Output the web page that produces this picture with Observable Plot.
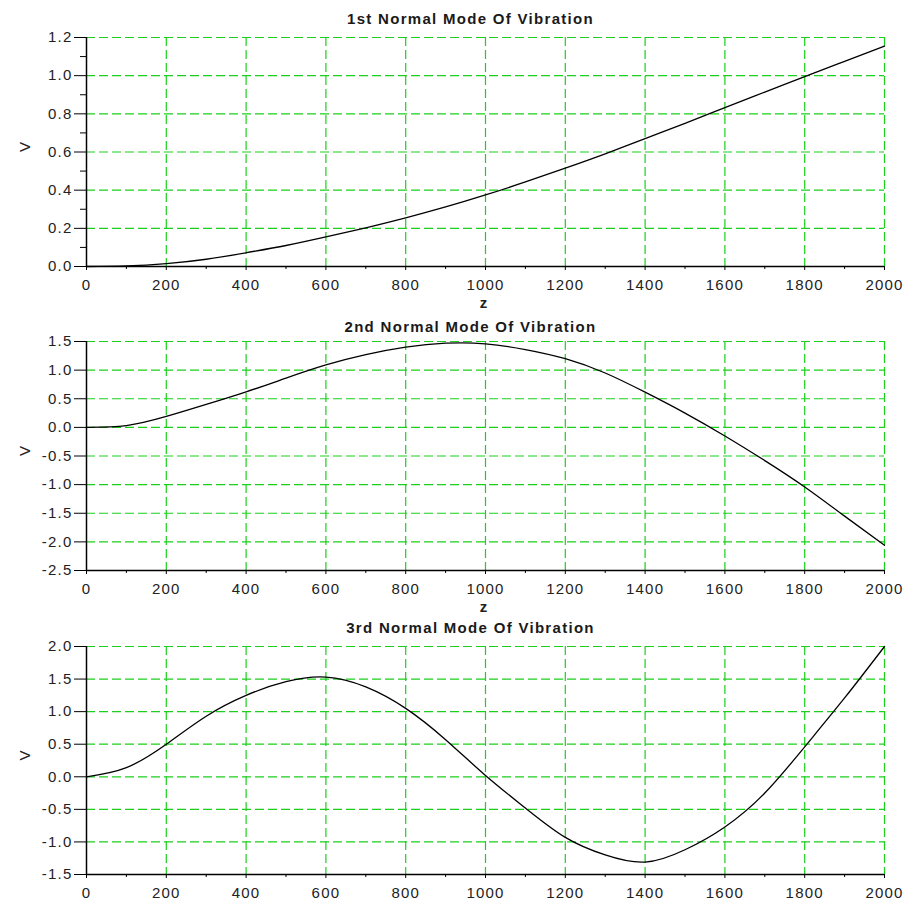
<!DOCTYPE html>
<html><head><meta charset="utf-8">
<script src="https://cdn.jsdelivr.net/npm/d3@7"></script>
<script src="https://cdn.jsdelivr.net/npm/@observablehq/plot@0.6"></script>
<style>
body{margin:0;background:#fff;}
#chart svg{display:block;}
#chart g[aria-label$="tick label"] text{letter-spacing:1.2px;}
</style></head><body><div id="chart"></div>
<script>
// Data
const z = [0,100,200,300,400,500,600,700,800,900,1000,1100,1200,1300,1400,1500,1600,1700,1800,1900,2000];
const mode1 = [0,0.003,0.015,0.038,0.072,0.11,0.155,0.203,0.255,0.312,0.375,0.443,0.515,0.59,0.67,0.75,0.833,0.914,0.995,1.075,1.155];
const mode2 = [0,0.03,0.19,0.40,0.62,0.86,1.09,1.27,1.40,1.47,1.46,1.36,1.20,0.95,0.615,0.25,-0.15,-0.58,-1.04,-1.55,-2.06];
const mode3 = [0,0.14,0.5,0.93,1.25,1.46,1.53,1.38,1.05,0.57,0.02,-0.48,-0.93,-1.2,-1.31,-1.12,-0.77,-0.25,0.46,1.21,2.0];
const titles = ["1st Normal Mode Of Vibration","2nd Normal Mode Of Vibration","3rd Normal Mode Of Vibration"];
const xTicks = [0,200,400,600,800,1000,1200,1400,1600,1800,2000];
const xMinor = [100,300,500,700,900,1100,1300,1500,1700,1900];
const yTicks1 = [0,0.2,0.4,0.6,0.8,1.0,1.2];
const yMinor1 = [0.1,0.3,0.5,0.7,0.9,1.1];
const yTicks2 = [-2.5,-2.0,-1.5,-1.0,-0.5,0,0.5,1.0,1.5];
const yTicks3 = [-1.5,-1.0,-0.5,0,0.5,1.0,1.5,2.0];
const xLabel = "z";
const yLabel = "V";

const GREEN = "#1ccf1c";
const FONT = "'Liberation Sans', Arial, sans-serif";

function panel({title, values, yTicks, yMinor, height, marginTop, marginBottom, titleDy, showZ}) {
  const data = z.map((d, i) => ({z: d, v: values[i]}));
  const yDomain = [yTicks[0], yTicks[yTicks.length - 1]];
  const marks = [
    Plot.gridX(xTicks.filter(d => d > 0), {stroke: GREEN, strokeOpacity: 1, strokeWidth: 1.2, strokeDasharray: "9,4"}),
    Plot.gridY(yTicks.filter(d => d > yDomain[0]), {stroke: GREEN, strokeOpacity: 1, strokeWidth: 1.2, strokeDasharray: "9,4"}),
    Plot.axisX(xMinor, {tickSize: 3, text: null, stroke: "#000", label: null}),
    Plot.axisX(xTicks, {tickSize: 4, tickPadding: 9, tickFormat: d => String(d), stroke: "#000", fill: "#222", label: null}),
    Plot.axisY(yTicks, {tickSize: 12, tickPadding: 2, tickFormat: d => d.toFixed(1), stroke: "#000", fill: "#222", label: null}),
    Plot.ruleX([0], {stroke: "#000", strokeWidth: 1.5}),
    Plot.ruleY([yDomain[0]], {stroke: "#000", strokeWidth: 1.5}),
    Plot.line(data, {x: "z", y: "v", curve: "natural", stroke: "#000", strokeWidth: 1.3}),
    Plot.text([title], {frameAnchor: "top", lineAnchor: "middle", dy: titleDy, dx: -15, fontSize: 15, fontWeight: "bold", fill: "#1a1a1a"}),
    Plot.text([yLabel], {frameAnchor: "left", lineAnchor: "middle", dx: -61, rotate: -90, fontSize: 15, fill: "#222"})
  ];
  if (yMinor) marks.push(Plot.axisY(yMinor, {tickSize: 6, text: null, stroke: "#000", label: null}));
  if (showZ) marks.push(Plot.text([xLabel], {frameAnchor: "bottom", lineAnchor: "middle", dy: 37, dx: -2, fontSize: 15, fontWeight: "bold", fill: "#222"}));
  const svg = Plot.plot({
    width: 906,
    height,
    marginTop,
    marginBottom,
    marginLeft: 86,
    marginRight: 22,
    style: {fontFamily: FONT, fontSize: "15px", background: "#fff", color: "#222"},
    x: {domain: [0, 2000], axis: null},
    y: {domain: yDomain, axis: null},
    marks
  });
  d3.select(svg).selectAll("text").filter(function () { return this.textContent === title; })
    .style("letter-spacing", "1.3px");
  return svg;
}

const el = document.getElementById("chart");
el.append(panel({title: titles[0], values: mode1, yTicks: yTicks1, yMinor: yMinor1, height: 312, marginTop: 37, marginBottom: 46, titleDy: -18, showZ: true}));
el.append(panel({title: titles[1], values: mode2, yTicks: yTicks2, yMinor: null, height: 302, marginTop: 29, marginBottom: 44, titleDy: -14, showZ: true}));
el.append(panel({title: titles[2], values: mode3, yTicks: yTicks3, yMinor: null, height: 288, marginTop: 32, marginBottom: 28, titleDy: -18, showZ: false}));
</script></body></html>
